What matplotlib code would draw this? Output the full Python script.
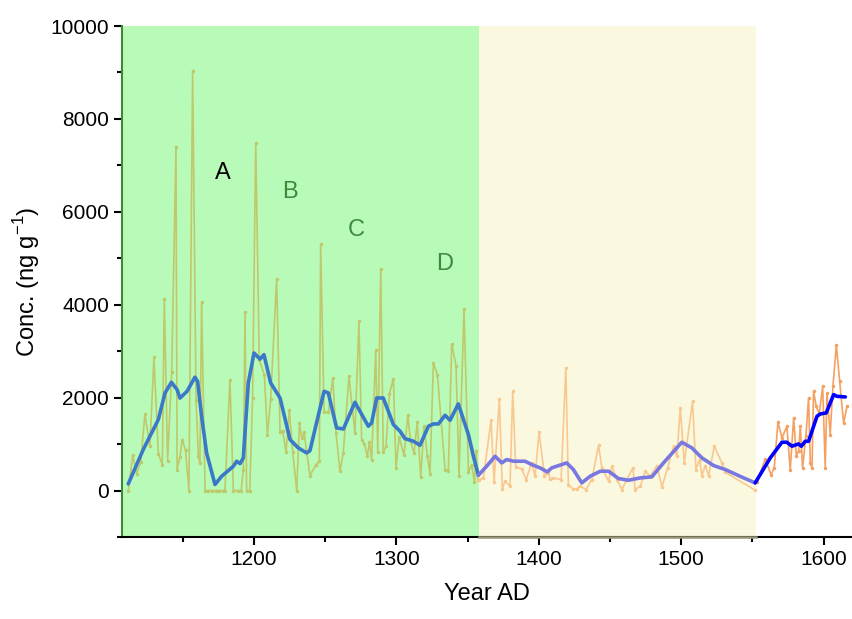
import matplotlib
matplotlib.use("Agg")
import matplotlib.pyplot as plt
from matplotlib.ticker import MultipleLocator

plt.rcParams['font.family'] = ['Liberation Sans', 'DejaVu Sans']

# Raw series, zone 1 (green)
raw1_year = [1111.7, 1114.8, 1117.6, 1120.4, 1123.4, 1126.9, 1129.7, 1132.8, 1135.6, 1137.0,
             1139.3, 1142.2, 1145.2, 1146.0, 1148.0, 1149.6, 1151.9, 1154.3, 1156.9, 1159.3,
             1160.9, 1162.0, 1163.2, 1165.6, 1168.0, 1170.5, 1173.0, 1175.5, 1178.0, 1179.6,
             1183.1, 1185.5, 1189.0, 1191.0, 1192.5, 1193.7, 1194.8, 1197.0, 1199.0, 1201.2,
             1203.7, 1207.3, 1209.4, 1211.7, 1215.9, 1218.3, 1220.1, 1222.5, 1224.8, 1227.2,
             1230.0, 1231.9, 1233.5, 1235.1, 1239.3, 1243.6, 1245.9, 1246.8, 1249.2, 1252.2,
             1255.3, 1257.6, 1260.4, 1262.7, 1266.7, 1270.9, 1273.7, 1275.6, 1277.5, 1279.6,
             1281.0, 1282.6, 1285.5, 1286.9, 1289.0, 1290.8, 1292.7, 1295.1, 1297.9, 1299.7,
             1301.9, 1305.4, 1308.0, 1310.0, 1312.4, 1314.7, 1317.1, 1319.4, 1321.8, 1323.6,
             1326.0, 1328.8, 1334.2, 1336.5, 1338.9, 1341.9, 1344.0, 1347.5, 1350.6, 1352.9,
             1354.8, 1356.0, 1357.1]
raw1_val = [0, 760, 366, 610, 1649, 954, 2875, 796, 559, 4123,
            645, 2552, 7404, 452, 724, 1097, 868, 0, 9032, 1957,
            738, 595, 4058, 0, 0, 0, 0, 0, 0, 0,
            2388, 0, 0, 0, 452, 3836, 0, 0, 1993, 7477,
            2818, 2495, 1190, 1972, 4560, 1255, 1290, 824, 1728, 824,
            0, 1455, 1133, 1255, 323, 559, 631, 5312, 1685, 1685,
            2423, 1240, 416, 810, 2459, 1240, 3642, 1083, 1004, 738,
            1047, 667, 3018, 824, 4775, 832, 954, 2079, 2409, 488,
            1147, 760, 1620, 1047, 810, 1477, 287, 1384, 738, 366,
            2746, 2495, 452, 430, 3155, 2689, 323, 3908, 394, 559,
            179, 860, 237]

# Raw series, zone 2 (beige)
raw2_year = [1357.1, 1358.3, 1361.1, 1366.5, 1368.6, 1372.3, 1374.4, 1376.3, 1379.8, 1381.7,
             1383.8, 1388.0, 1391.1, 1395.0, 1397.4, 1400.2, 1404.0, 1406.8, 1408.0, 1410.3,
             1415.7, 1419.0, 1420.8, 1423.9, 1426.7, 1429.0, 1433.2, 1437.3, 1442.0, 1444.3,
             1449.0, 1451.3, 1454.9, 1458.4, 1461.9, 1466.1, 1467.7, 1471.3, 1474.8, 1478.3,
             1483.0, 1486.5, 1490.5, 1494.7, 1497.0, 1499.4, 1502.2, 1508.0, 1510.4, 1512.9,
             1514.6, 1516.9, 1519.3, 1523.3, 1528.6, 1531.0, 1552.0]
raw2_val = [237, 237, 272, 1513, 186, 1979, 43, 201, 93, 2137,
            509, 466, 237, 595, 308, 1255, 323, 380, 251, 272,
            237, 2639, 129, 36, 36, 93, 22, 237, 975, 488,
            201, 523, 237, 22, 237, 488, 22, 93, 416, 308,
            538, 79, 488, 954, 738, 1778, 595, 1921, 452, 667,
            323, 538, 323, 954, 595, 394, 7]

# Raw series, zone 3 (white)
raw3_year = [1553.2, 1559.1, 1563.1, 1565.4, 1568.0, 1570.8, 1574.3, 1576.6, 1579.0, 1580.9,
             1582.5, 1583.7, 1585.3, 1587.6, 1589.5, 1590.7, 1591.9, 1593.0, 1594.9, 1597.0,
             1599.4, 1601.2, 1602.4, 1604.7, 1606.6, 1609.0, 1611.3, 1614.1, 1616.5]
raw3_val = [186, 681, 344, 488, 1477, 1133, 1384, 437, 1563, 753,
            846, 1384, 488, 1169, 1993, 595, 488, 2137, 1814, 1649,
            2244, 488, 2101, 1204, 2244, 3126, 2366, 1455, 1814]

# Smoothed curves
sm1_year = [1111.7, 1122.2, 1132.8, 1137.5, 1142.0, 1146.0, 1148.0, 1153.0, 1158.5, 1160.4,
            1163.2, 1166.7, 1172.6, 1177.3, 1185.5, 1187.8, 1190.2, 1192.5, 1196.0, 1200.0,
            1204.2, 1207.0, 1211.7, 1218.3, 1225.3, 1231.1, 1237.0, 1239.3, 1249.2, 1252.2,
            1258.0, 1262.8, 1270.9, 1280.3, 1282.6, 1286.2, 1290.8, 1297.9, 1302.6, 1306.0,
            1312.0, 1316.6, 1322.5, 1326.0, 1329.5, 1334.2, 1337.7, 1343.5, 1350.6, 1354.1,
            1357.6]
sm1_val = [143, 882, 1527, 2100, 2330, 2170, 1990, 2137, 2440, 2350,
           1600, 810, 130, 308, 523, 630, 580, 700, 2316, 2960,
           2830, 2925, 2316, 1993, 1097, 918, 810, 860, 2137, 2100,
           1348, 1326, 1900, 1384, 1455, 1993, 1993, 1420, 1276, 1118,
           1061, 975, 1384, 1434, 1434, 1620, 1513, 1864, 1204, 738,
           330]

sm2_year = [1357.6, 1363.4, 1369.3, 1374.0, 1377.5, 1382.2, 1390.4, 1395.0, 1400.9, 1406.0,
            1409.1, 1419.6, 1424.3, 1430.2, 1436.1, 1443.2, 1449.0, 1456.0, 1463.0, 1471.3,
            1479.4, 1487.6, 1500.5, 1507.5, 1514.6, 1522.8, 1531.0, 1543.9, 1552.0]
sm2_val = [330, 523, 738, 595, 667, 631, 631, 560, 488, 401,
           488, 595, 452, 165, 308, 416, 416, 258, 222, 272,
           294, 595, 1040, 918, 703, 538, 452, 272, 165]

sm3_year = [1552.0, 1562.6, 1570.8, 1574.3, 1577.8, 1582.5, 1584.4, 1587.2, 1589.5, 1595.4,
            1597.7, 1601.9, 1607.1, 1609.4, 1615.3]
sm3_val = [165, 703, 1040, 1040, 954, 1004, 954, 1061, 1061, 1599,
           1649, 1671, 2065, 2029, 2015]

zone_bounds = [1107.5, 1358.3, 1552.7]
letters = ['A', 'B', 'C', 'D']
letter_x = [1178, 1225, 1272, 1334]
letter_y = [6830, 6420, 5600, 4880]
letter_colors = ['black', '#3d8a3d', '#3d8a3d', '#3d8a3d']

fig = plt.figure(figsize=(8.52, 6.19), dpi=100)
ax = fig.add_axes([122.3 / 852, 82 / 619, (852 - 122.3) / 852, (537 - 26) / 619])

ax.axvspan(zone_bounds[0], zone_bounds[1], color='#b8fbb8', lw=0, zorder=0)
ax.axvspan(zone_bounds[1], zone_bounds[2], color='#fbf8e0', lw=0, zorder=0)

ax.plot(raw1_year, raw1_val, color='#bfc86a', lw=1.2, marker='o', ms=1.5, zorder=2)
ax.plot(raw2_year, raw2_val, color='#f8c890', lw=1.2, marker='o', ms=1.5, zorder=2)
ax.plot(raw3_year, raw3_val, color='#f4a060', lw=1.2, marker='o', ms=1.5, zorder=2)

ax.plot(sm1_year, sm1_val, color='#3a78c8', lw=2.6, zorder=3, solid_capstyle='round')
ax.plot(sm2_year, sm2_val, color='#7878e0', lw=2.6, zorder=3, solid_capstyle='round')
ax.plot(sm3_year, sm3_val, color='#0000ff', lw=2.6, zorder=3, solid_capstyle='round')

for t, x, y, c in zip(letters, letter_x, letter_y, letter_colors):
    ax.text(x, y, t, color=c, fontsize=17, ha='center', va='center')

ax.set_xlim(1107.5, 1620)
ax.set_ylim(-1000, 10000)
ax.set_xticks([1200, 1300, 1400, 1500, 1600])
ax.set_yticks([0, 2000, 4000, 6000, 8000, 10000])
ax.xaxis.set_minor_locator(MultipleLocator(50))
ax.yaxis.set_minor_locator(MultipleLocator(1000))
ax.tick_params(which='major', direction='out', length=6, width=1.5, labelsize=15)
ax.tick_params(which='minor', direction='out', length=3.5, width=1.5)

for s in ['top', 'right']:
    ax.spines[s].set_visible(False)
ax.spines['left'].set_color('#3a8a3a')
ax.spines['left'].set_linewidth(1.5)
ax.spines['bottom'].set_linewidth(1.5)
ax.plot([zone_bounds[1], zone_bounds[2]], [-1000, -1000], color='#9a9676', lw=1.8,
        clip_on=False, zorder=5)

ax.set_xlabel('Year AD', fontsize=17, labelpad=10)
ax.set_ylabel('Conc. (ng g$^{\\mathregular{-1}}$)', fontsize=17, labelpad=6)

fig.savefig('out.png', dpi=100)
